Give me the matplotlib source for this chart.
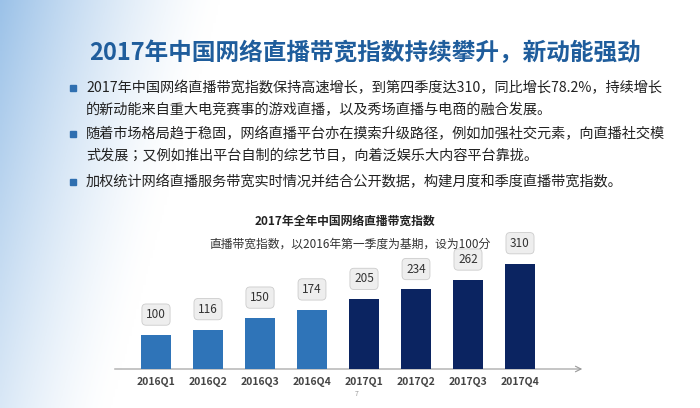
import numpy as np
import matplotlib.pyplot as plt
from matplotlib import font_manager as fm
import glob

# locate a sans CJK font and register it if needed
def find_cjk():
    names = [f.name for f in fm.fontManager.ttflist
             if 'CJK' in f.name and 'Serif' not in f.name]
    for pref in ('SC', 'JP', 'TC', 'KR', ''):
        for n in names:
            if pref in n:
                return n
    return None

cjk_name = find_cjk()
if cjk_name is None:
    for path in glob.glob('/usr/share/fonts/**/*Sans*CJK*', recursive=True):
        try:
            fm.fontManager.addfont(path)
        except Exception:
            pass
    cjk_name = find_cjk()
plt.rcParams['font.family'] = [cjk_name or 'Noto Sans CJK SC', 'DejaVu Sans']

quarters = ['2016Q1', '2016Q2', '2016Q3', '2016Q4', '2017Q1', '2017Q2', '2017Q3', '2017Q4']
values = [100, 116, 150, 174, 205, 234, 262, 310]
colors = ['#2f74b8'] * 4 + ['#0b2461'] * 4

title = '2017年中国网络直播带宽指数持续攀升，新动能强劲'
bullets = [
    ('2017年中国网络直播带宽指数保持高速增长，到第四季度达310，同比增长78.2%，持续增长',
     '的新动能来自重大电竞赛事的游戏直播，以及秀场直播与电商的融合发展。'),
    ('随着市场格局趋于稳固，网络直播平台亦在摸索升级路径，例如加强社交元素，向直播社交模',
     '式发展；又例如推出平台自制的综艺节目，向着泛娱乐大内容平台靠拢。'),
    ('加权统计网络直播服务带宽实时情况并结合公开数据，构建月度和季度直播带宽指数。', None),
]
chart_title = '2017年全年中国网络直播带宽指数'
chart_sub = '直播带宽指数，以2016年第一季度为基期，设为100分'

W, H = 700, 408
fig = plt.figure(figsize=(7, 4.08), dpi=100)

# background gradient
bg = fig.add_axes([0, 0, 1, 1])
gx = np.linspace(0, 1, 300)
gy = np.linspace(0, 1, 200)
X, Y = np.meshgrid(gx, gy)
t = np.clip(1 - X * 3.2 - Y * 0.5, 0, 1) ** 1.4 * 0.6
img = np.ones((200, 300, 3))
base = np.array([0.35, 0.6, 0.85])
for c in range(3):
    img[:, :, c] = 1 - t * (1 - base[c])
bg.imshow(img, extent=[0, W, H, 0], aspect='auto', origin='upper')
bg.set_xlim(0, W)
bg.set_ylim(H, 0)
bg.axis('off')

bg.text(365, 53, title, fontsize=17, fontweight='bold', color='#1f5d9c',
        ha='center', va='center')
ys = [88, 134, 182]
for (l1, l2), y in zip(bullets, ys):
    bg.add_patch(plt.Rectangle((70, y - 3), 6, 6, color='#2f6fb0'))
    bg.text(86, y, l1, fontsize=10.2, color='#222222', va='center')
    if l2:
        bg.text(86, y + 22, l2, fontsize=10.2, color='#222222', va='center')
bg.text(345, 221, chart_title, fontsize=8.5, fontweight='bold', color='#222222',
        ha='center', va='center')
bg.text(350, 244, chart_sub, fontsize=8.5, color='#333333', ha='center', va='center')
bg.text(357, 394, '7', fontsize=5, color='#999999', ha='center', va='center')

# chart axes: index i at pixel 156 + 52*i, baseline at y=369
left_px, right_px = 110, 585
base_px, top_px = 369, 230
ax = fig.add_axes([left_px / W, (H - base_px) / H, (right_px - left_px) / W,
                   (base_px - top_px) / H])
ax.set_xlim((left_px - 156) / 52, (right_px - 156) / 52)
scale = 0.34
ax.set_ylim(0, (base_px - top_px) / scale)
ax.patch.set_alpha(0)
ax.axis('off')
x = np.arange(len(values))
ax.bar(x, values, width=0.56, color=colors, zorder=3)
for xi, v in zip(x, values):
    ax.text(xi, v + 60, str(v), fontsize=8.5, color='#333333', ha='center', va='center',
            bbox=dict(boxstyle='round,pad=0.35', fc='#eeeeee', ec='#cccccc', lw=0.6),
            zorder=4)
ax.annotate('', xy=((right_px - 156) / 52, 0), xytext=(-0.85, 0),
            arrowprops=dict(arrowstyle='->', color='#999999', lw=0.8), zorder=2,
            annotation_clip=False)
for xi, q in zip(x, quarters):
    ax.text(xi, -38, q, fontsize=7.5, fontweight='bold', color='#444444',
            ha='center', va='center', clip_on=False)

fig.savefig('out.png', dpi=100)
